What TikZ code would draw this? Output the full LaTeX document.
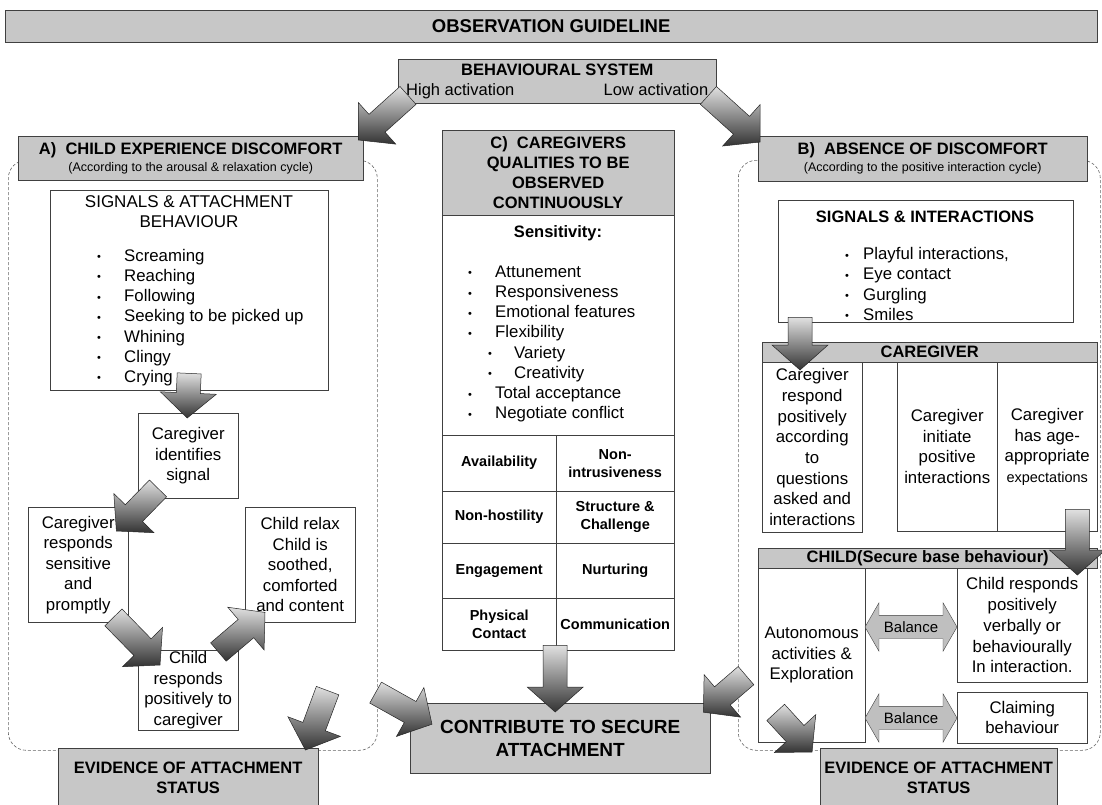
\documentclass[tikz,border=0pt]{standalone}
\usepackage{fontspec}
\setmainfont{Liberation Sans}
\usetikzlibrary{calc}
\usetikzlibrary{shapes.arrows}

\newcommand{\fsz}[2]{\fontsize{#1}{#2}\selectfont}
\newcommand{\blt}{{\fsz{11}{11}\raisebox{0.5pt}{\textbullet}}}
\newcommand{\itm}[2][27pt]{\makebox[#1][l]{\blt}#2}
% block arrow from #1 to #2 (shaded, like the scanned 3D arrows)
\newcommand{\blockarrow}[2]{%
  \coordinate (ba-s) at (#1);
  \coordinate (ba-e) at (#2);
  \coordinate (ba-c) at ($(ba-e)!25pt!(ba-s)$);
  \draw[blockarr] ($(ba-s)!12pt!90:(ba-e)$) -- ($(ba-c)!12pt!-90:(ba-s)$)
    -- ($(ba-c)!28pt!-90:(ba-s)$) -- (ba-e) -- ($(ba-c)!28pt!90:(ba-s)$)
    -- ($(ba-c)!12pt!90:(ba-s)$) -- ($(ba-s)!12pt!-90:(ba-e)$) -- cycle;}

\begin{document}
\begin{tikzpicture}[x=1pt,y=-1pt,
    hdr/.style={draw=black!75,fill=black!22,font=\bfseries\fsz{16.5}{20},align=center,inner sep=0pt},
    tcell/.style={draw=black!75,fill=white,font=\fsz{16.8}{20.5},align=center,inner sep=0pt},
    qcell/.style={tcell,font=\bfseries\fsz{14.5}{18}},
    panel/.style={draw=black!60,densely dashed,rounded corners=18pt,line width=0.6pt,inner sep=0pt},
    list/.style={font=\fsz{16.8}{20.2},align=left,inner sep=0pt,anchor=west},
    blockarr/.style={draw=black!85,line width=0.5pt,top color=black!12,bottom color=black!80},
    balance/.style={shape=double arrow,draw=black!75,fill=black!25,font=\fsz{15}{18},
      double arrow head extend=12.5pt,double arrow tip angle=120,inner ysep=6pt,inner xsep=2pt,
      minimum height=92pt}]
    \useasboundingbox (0,0) rectangle (1102,804);

    % dashed side panels
    \node[panel, minimum width=369pt, minimum height=590pt, anchor=north west] (panelA) at (8,160) {};
    \node[panel, minimum width=362pt, minimum height=590pt, anchor=north west] (panelB) at (738,160) {};

    % title and behavioural system
    \node[hdr, font=\bfseries\fsz{18.5}{20}, minimum width=1092pt, minimum height=32pt, anchor=north west] (title) at (5,10) {OBSERVATION GUIDELINE};
    \node[hdr, minimum width=318pt, minimum height=44pt, anchor=north west] (behav) at (398,59)
      {BEHAVIOURAL SYSTEM\\{\mdseries\fsz{16.5}{20}\makebox[302pt]{High activation\hfill Low activation}}};

    % A) child experience discomfort
    \node[hdr, minimum width=345pt, minimum height=44pt, anchor=north west] (hdrA) at (18,136)
      {A)\ \ CHILD EXPERIENCE DISCOMFORT\\[-3pt]{\mdseries\fsz{12.5}{15}(According to the arousal \& relaxation cycle)}};
    \node[tcell, minimum width=278pt, minimum height=200pt, anchor=north west] (sigA) at (50,190) {};
    \node[font=\fsz{17}{20}, align=center] (sigAt) at (189,212) {SIGNALS \& ATTACHMENT\\BEHAVIOUR};
    \node[list] (listA) at (97,317.5) {\itm{Screaming}\\\itm{Reaching}\\\itm{Following}\\\itm{Seeking to be picked up}\\\itm{Whining}\\\itm{Clingy}\\\itm{Crying}};
    \node[tcell, minimum width=100pt, minimum height=85pt, anchor=north west] (cgid) at (138,413) {Caregiver\\identifies\\signal};
    \node[tcell, minimum width=100pt, minimum height=115pt, anchor=north west] (cgresp) at (28,507) {Caregiver\\responds\\sensitive\\and\\promptly};
    \node[tcell, minimum width=110pt, minimum height=115pt, anchor=north west] (relax) at (245,507) {Child relax\\Child is\\soothed,\\comforted\\and content};
    \node[tcell, minimum width=100pt, minimum height=80pt, anchor=north west] (chresp) at (138,650) {Child\\responds\\positively to\\caregiver};
    \node[hdr, minimum width=260pt, minimum height=60pt, anchor=north west] (evA) at (58,748) {EVIDENCE OF ATTACHMENT\\STATUS};

    % C) caregivers qualities
    \node[tcell, minimum width=232pt, minimum height=520pt, anchor=north west] (colC) at (442,130) {};
    \node[hdr, minimum width=232pt, minimum height=85pt, anchor=north west] (hdrC) at (442,130) {C)\ \ CAREGIVERS\\QUALITIES TO BE\\OBSERVED\\CONTINUOUSLY};
    \node[tcell, minimum width=232pt, minimum height=220pt, anchor=north west] (sens) at (442,215) {};
    \node[font=\bfseries\fsz{16.5}{20}] (senst) at (558,233) {Sensitivity:};
    \node[list] (listC) at (468,344) {\itm{Attunement}\\\itm{Responsiveness}\\\itm{Emotional features}\\\itm{Flexibility}\\
      \hspace*{20pt}\itm[26pt]{Variety}\\\hspace*{20pt}\itm[26pt]{Creativity}\\\itm{Total acceptance}\\\itm{Negotiate conflict}};
    \node[qcell, minimum width=114pt, minimum height=56pt, anchor=north west] (avail) at (442,435) {Availability};
    \node[qcell, minimum width=118pt, minimum height=56pt, anchor=north west] (nonint) at (556,435) {Non-\\intrusiveness};
    \node[qcell, minimum width=114pt, minimum height=52pt, anchor=north west] (nonhost) at (442,491) {Non-hostility};
    \node[qcell, minimum width=118pt, minimum height=52pt, anchor=north west] (struct) at (556,491) {Structure \&\\Challenge};
    \node[qcell, minimum width=114pt, minimum height=55pt, anchor=north west] (engage) at (442,543) {Engagement};
    \node[qcell, minimum width=118pt, minimum height=55pt, anchor=north west] (nurt) at (556,543) {Nurturing};
    \node[qcell, minimum width=114pt, minimum height=52pt, anchor=north west] (phys) at (442,598) {Physical\\Contact};
    \node[qcell, minimum width=118pt, minimum height=52pt, anchor=north west] (comm) at (556,598) {Communication};
    \node[hdr, font=\bfseries\fsz{19}{23}, minimum width=300pt, minimum height=70pt, anchor=north west] (contrib) at (410,703) {CONTRIBUTE TO SECURE\\ATTACHMENT};

    % B) absence of discomfort
    \node[hdr, minimum width=329pt, minimum height=45pt, anchor=north west] (hdrB) at (758,136)
      {B)\ \ ABSENCE OF DISCOMFORT\\[-3pt]{\mdseries\fsz{12.5}{15}(According to the positive interaction cycle)}};
    \node[tcell, minimum width=295pt, minimum height=122pt, anchor=north west] (sigB) at (778,200) {};
    \node[font=\bfseries\fsz{16.5}{20}] (sigBt) at (925,217) {SIGNALS \& INTERACTIONS};
    \node[list] (listB) at (845,284) {\itm[18pt]{Playful interactions,}\\\itm[18pt]{Eye contact}\\\itm[18pt]{Gurgling}\\\itm[18pt]{Smiles}};
    \node[hdr, minimum width=335pt, minimum height=20pt, anchor=north west] (hdrCg) at (762,342) {CAREGIVER};
    \node[tcell, font=\fsz{16.8}{20.7}, minimum width=100pt, minimum height=170pt, anchor=north west] (cg1) at (762,362)
      {Caregiver\\respond\\positively\\according\\to\\questions\\asked and\\interactions};
    \node[tcell, minimum width=100pt, minimum height=169pt, anchor=north west] (cg2) at (897,362) {Caregiver\\initiate\\positive\\interactions};
    \node[tcell, minimum width=100pt, minimum height=169pt, anchor=north west] (cg3) at (997,362) {Caregiver\\has age-\\appropriate\\{\fsz{14.5}{20}expectations}};
    \node[hdr, minimum width=339pt, minimum height=20pt, anchor=north west] (hdrCh) at (758,548) {CHILD(Secure base behaviour)};
    \node[tcell, minimum width=107pt, minimum height=174pt, anchor=north west] (auton) at (758,568) {Autonomous\\activities \&\\Exploration};
    \node[tcell, font=\fsz{16.8}{20.8}, minimum width=130pt, minimum height=114pt, anchor=north west] (chpos) at (957,568)
      {Child responds\\positively\\verbally or\\behaviourally\\In interaction.};
    \node[tcell, minimum width=130pt, minimum height=51pt, anchor=north west] (claim) at (957,692) {Claiming\\behaviour};
    \node[balance] (bal1) at (911,627) {Balance};
    \node[balance] (bal2) at (911,718) {Balance};
    \node[hdr, minimum width=237pt, minimum height=60pt, anchor=north west] (evB) at (820,748) {EVIDENCE OF ATTACHMENT\\STATUS};

    % block arrows
    \blockarrow{$(behav.south west)+(10,-8)$}{$(hdrA.north east)+(-5,4)$} % high activation
    \blockarrow{$(behav.south east)+(-8,-8)$}{$(hdrB.north west)+(2,6)$} % low activation
    \blockarrow{$(sigA.south)+(0,-17)$}{$(cgid.north)+(-1,5)$}
    \blockarrow{$(cgid.south west)+(20,-10)$}{$(cgresp.north east)+(-12,24)$}
    \blockarrow{$(cgresp.south east)+(-15,-5)$}{$(chresp.north west)+(22,15)$}
    \blockarrow{$(chresp.north east)+(-20,2)$}{$(relax.south west)+(20,-10)$}
    \blockarrow{$(panelA.south east)+(-50,-60)$}{$(evA.north east)+(-13,2)$}
    \blockarrow{$(panelA.south east)+(-2,-58)$}{$(contrib.west)+(22,-14)$}
    \blockarrow{$(colC.south)+(-3,-5)$}{$(contrib.north)+(-5,9)$}
    \blockarrow{$(panelB.south west)+(8,-75)$}{$(contrib.east)+(-7,-26)$}
    \blockarrow{$(sigB.south west)+(22,-5)$}{$(hdrCg.north west)+(38,28)$}
    \blockarrow{$(cg3.south east)+(-20,-22)$}{$(hdrCh.north east)+(-20,27)$}
    \blockarrow{$(auton.south)+(-36,-30)$}{$(evB.north west)+(-8,4)$}
\end{tikzpicture}
\end{document}
